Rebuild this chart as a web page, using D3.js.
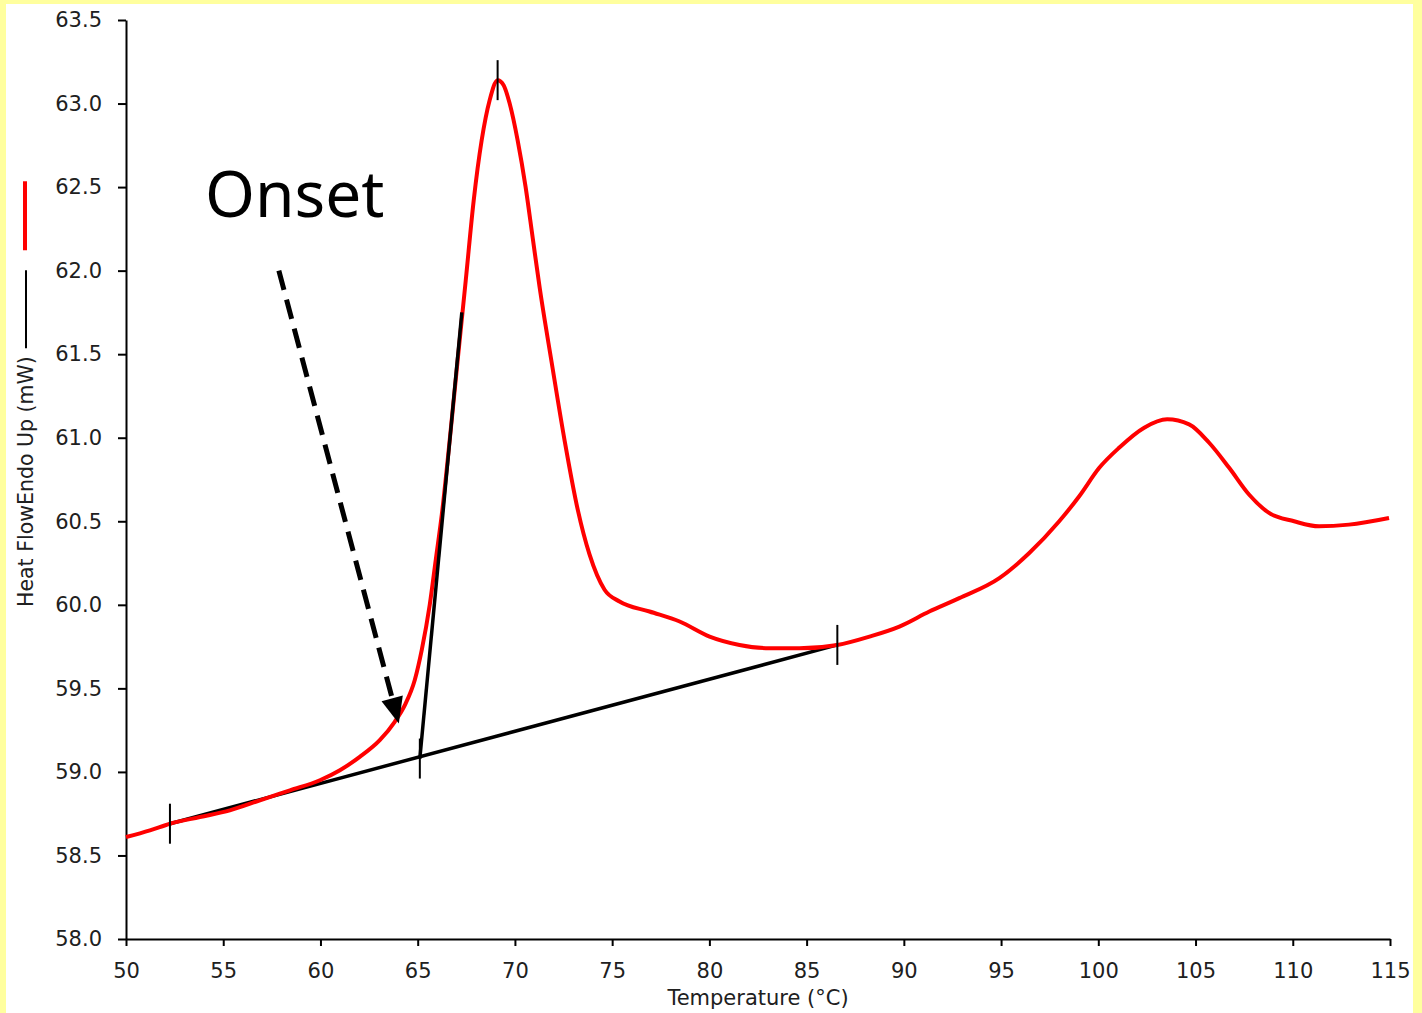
<!DOCTYPE html>
<html>
<head>
<meta charset="utf-8">
<script src="https://cdn.jsdelivr.net/npm/d3@7"></script>
<style>
  html, body { margin: 0; padding: 0; background: #ffff9e; }
  svg { display: block; }
  .tick text { font-family: "DejaVu Sans", sans-serif; font-size: 21px; fill: #202020; }
</style>
</head>
<body>
<div id="page"></div>
<script>
// data
const temps = [50.0, 51.23, 52.26, 53.8, 55.34, 56.89, 58.43, 59.97, 61.0, 62.02, 63.05, 63.82, 64.34, 64.85,
    65.21, 65.62, 65.93, 66.24, 66.65, 67.06, 67.47, 67.88, 68.29, 68.7, 69.11, 69.42, 69.73, 70.14, 70.55,
    70.91, 71.27, 71.89, 72.56, 73.23, 73.84, 74.61, 75.38, 76.92, 78.47, 80.01, 81.55, 83.09, 84.63, 86.58,
    88.23, 89.77, 91.31, 92.85, 94.91, 96.45, 97.99, 99.02, 100.05, 101.07, 102.36, 103.54, 104.67, 105.7,
    106.73, 107.75, 108.78, 110.07, 111.35, 112.89, 114.95];
const heat_flow = [58.61, 58.65, 58.69, 58.73, 58.77, 58.83, 58.89, 58.95, 59.01, 59.09, 59.19, 59.30, 59.40, 59.55,
    59.73, 60.0, 60.27, 60.54, 60.99, 61.47, 61.94, 62.42, 62.78, 63.02, 63.14, 63.11, 63.0, 62.78, 62.5,
    62.2, 61.9, 61.45, 60.98, 60.57, 60.30, 60.09, 60.02, 59.96, 59.90, 59.81, 59.76, 59.74, 59.74, 59.76,
    59.81, 59.87, 59.96, 60.04, 60.16, 60.31, 60.50, 60.65, 60.82, 60.94, 61.06, 61.11, 61.08, 60.97,
    60.82, 60.66, 60.55, 60.50, 60.47, 60.48, 60.52];

// baseline + onset tangent
const baseline_pts = [[52.26, 58.69], [86.58, 59.76]];
const tangent_pts = [[65.11, 59.08], [67.27, 61.75]];
// marker ticks (start, onset, peak, end)
const markers = [[52.26, 58.69], [65.11, 59.08], [69.11, 63.14], [86.58, 59.76]];

const x_ticks = [50, 55, 60, 65, 70, 75, 80, 85, 90, 95, 100, 105, 110, 115];
const y_ticks = [58.0, 58.5, 59.0, 59.5, 60.0, 60.5, 61.0, 61.5, 62.0, 62.5, 63.0, 63.5];

const onset_label = {text: "Onset", t: 54.06, v: 62.32};
const arrow_from = [57.86, 62.0];
const arrow_to = [64.03, 59.29];

// setup
const W = 1422, H = 1013;
const svg = d3.select("#page").append("svg").attr("width", W).attr("height", H);

// yellow frame
svg.append("rect").attr("width", W).attr("height", H).attr("fill", "#ffff9e");
svg.append("rect").attr("x", 6).attr("y", 4).attr("width", 1407).attr("height", H - 4).attr("fill", "#ffffff");

const x = d3.scaleLinear().domain([50, 115]).range([126, 1390]);
const y = d3.scaleLinear().domain([58, 63.5]).range([939, 20]);

// axes
const x_axis = svg.append("g")
    .attr("transform", `translate(0,${y(58)})`)
    .call(d3.axisBottom(x).tickValues(x_ticks).tickSize(7).tickSizeOuter(0).tickPadding(17).tickFormat(d3.format("d")));
const y_axis = svg.append("g")
    .attr("transform", `translate(${x(50)},0)`)
    .call(d3.axisLeft(y).tickValues(y_ticks).tickSize(8).tickSizeOuter(0).tickPadding(16).tickFormat(d3.format(".1f")));
[x_axis, y_axis].forEach(g => {
    g.select(".domain").attr("stroke", "#000").attr("stroke-width", 2);
    g.selectAll(".tick line").attr("stroke", "#000").attr("stroke-width", 2);
});

// axis titles
svg.append("text")
    .attr("x", x(82.5)).attr("y", 1005)
    .attr("text-anchor", "middle")
    .attr("font-family", "DejaVu Sans, sans-serif").attr("font-size", 21).attr("fill", "#202020")
    .text("Temperature (°C)");

const y_title = svg.append("text")
    .attr("transform", "translate(33,607) rotate(-90)")
    .attr("text-anchor", "start")
    .attr("font-family", "DejaVu Sans, sans-serif").attr("font-size", 20.5).attr("fill", "#202020")
    .text("Heat FlowEndo Up (mW)");
const title_len = y_title.node().getComputedTextLength();
const legend_top = 607 - title_len - 8;
// legend bits after the title
svg.append("line").attr("x1", 26).attr("x2", 26)
    .attr("y1", legend_top).attr("y2", legend_top - 78)
    .attr("stroke", "#000").attr("stroke-width", 2);
svg.append("line").attr("x1", 25).attr("x2", 25)
    .attr("y1", legend_top - 98).attr("y2", legend_top - 167)
    .attr("stroke", "#ff0000").attr("stroke-width", 4);

// baseline and tangent
const line_gen = d3.line().x(d => x(d[0])).y(d => y(d[1]));
svg.append("path").datum(baseline_pts).attr("d", line_gen)
    .attr("fill", "none").attr("stroke", "#000").attr("stroke-width", 3.5);

// red trace
const curve = temps.map((t, i) => [t, heat_flow[i]]);
svg.append("path").datum(curve)
    .attr("d", d3.line().x(d => x(d[0])).y(d => y(d[1])).curve(d3.curveMonotoneX))
    .attr("fill", "none").attr("stroke", "#ff0000").attr("stroke-width", 4).attr("stroke-linejoin", "round");

svg.append("path").datum(tangent_pts).attr("d", line_gen)
    .attr("fill", "none").attr("stroke", "#000").attr("stroke-width", 3.5);

// marker ticks
svg.selectAll(".marker").data(markers).join("line")
    .attr("class", "marker")
    .attr("x1", d => x(d[0])).attr("x2", d => x(d[0]))
    .attr("y1", d => y(d[1]) - 20).attr("y2", d => y(d[1]) + 20)
    .attr("stroke", "#000").attr("stroke-width", 2);

// onset annotation
svg.append("text")
    .attr("x", x(onset_label.t)).attr("y", y(onset_label.v))
    .attr("font-family", "Noto Sans, sans-serif").attr("font-size", 64).attr("fill", "#000")
    .text(onset_label.text);

const ax0 = x(arrow_from[0]), ay0 = y(arrow_from[1]);
const ax1 = x(arrow_to[0]), ay1 = y(arrow_to[1]);
const ang = Math.atan2(ay1 - ay0, ax1 - ax0);
const head_len = 26, head_w = 11;
const bx = ax1 - head_len * Math.cos(ang), by = ay1 - head_len * Math.sin(ang);
svg.append("line")
    .attr("x1", ax0).attr("y1", ay0).attr("x2", bx).attr("y2", by)
    .attr("stroke", "#000").attr("stroke-width", 5).attr("stroke-dasharray", "20,10");
svg.append("polygon")
    .attr("points", [
        [ax1, ay1],
        [bx + head_w * Math.sin(ang), by - head_w * Math.cos(ang)],
        [bx - head_w * Math.sin(ang), by + head_w * Math.cos(ang)]
    ].map(p => p.join(",")).join(" "))
    .attr("fill", "#000");
</script>
</body>
</html>
